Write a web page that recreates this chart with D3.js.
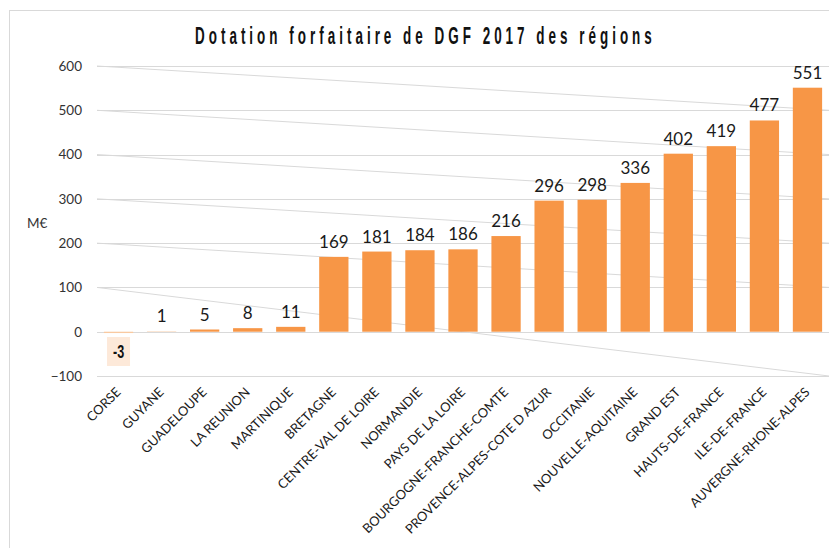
<!DOCTYPE html>
<html>
<head>
<meta charset="utf-8">
<script src="https://cdn.jsdelivr.net/npm/d3@7"></script>
<style>
  body { margin: 0; background: #fff; }
  svg { display: block; }
</style>
</head>
<body>
<svg id="chart" width="829" height="548"></svg>
<script>
const categories = ["CORSE","GUYANE","GUADELOUPE","LA REUNION","MARTINIQUE","BRETAGNE","CENTRE-VAL DE LOIRE","NORMANDIE","PAYS DE LA LOIRE","BOURGOGNE-FRANCHE-COMTE","PROVENCE-ALPES-COTE D AZUR","OCCITANIE","NOUVELLE-AQUITAINE","GRAND EST","HAUTS-DE-FRANCE","ILE-DE-FRANCE","AUVERGNE-RHONE-ALPES"];
const values = [-3, 1, 5, 8, 11, 169, 181, 184, 186, 216, 296, 298, 336, 402, 419, 477, 551];
const yTicks = [-100, 0, 100, 200, 300, 400, 500, 600];
const diagonalFrom = [600, 500, 400, 300, 200, 100];
const diagonalTo   = [500, 400, 300, 200, 100, -100];
const title = "Dotation forfaitaire de DGF 2017 des régions";
const unit = "M€";

const svg = d3.select("#chart");
const left = 97, right = 829;

const x = d3.scaleBand().domain(categories).range([left, right]).paddingInner(0.32).paddingOuter(0.16);
const y = d3.scaleLinear().domain([-100, 600]).range([376, 66]);

// frame
svg.append("rect").attr("x", 9.5).attr("y", 10.5).attr("width", 830).attr("height", 560)
  .attr("fill", "none").attr("stroke", "#d9d9d9");

// title (condensed, widely spaced)
const sx = 0.56, titleW = 457;
const tt = svg.append("text")
  .attr("font-family", "'Liberation Sans', Arial, sans-serif")
  .attr("font-weight", "bold").attr("font-size", 24).attr("fill", "#111")
  .text(title);
const natural = tt.node().getComputedTextLength();
const n = title.length;
const ls = (titleW / sx - natural) / (n - 1);
tt.attr("letter-spacing", ls)
  .attr("transform", `translate(195,44) scale(${sx},1)`);

// gridlines
const grid = svg.append("g").attr("stroke", "#d9d9d9").attr("stroke-width", 1);
grid.selectAll("line.h").data(yTicks).join("line").attr("class", "h")
  .attr("x1", left).attr("x2", right)
  .attr("y1", d => Math.round(y(d)) + 0.5).attr("y2", d => Math.round(y(d)) + 0.5);
grid.selectAll("line.d").data(diagonalFrom).join("line").attr("class", "d")
  .attr("x1", left).attr("x2", right)
  .attr("y1", d => y(d)).attr("y2", (d, i) => y(diagonalTo[i]));

// y axis
const yAxis = d3.axisLeft(y).tickValues(yTicks).tickSize(0).tickPadding(0);
const ya = svg.append("g").attr("transform", "translate(82,0)").call(yAxis);
ya.select(".domain").remove();
ya.selectAll("text").attr("font-family", "Lato, 'Open Sans', sans-serif").attr("font-size", 13.5).attr("fill", "#333");

svg.append("text").attr("x", 27).attr("y", 228).attr("font-family", "Lato, 'Open Sans', sans-serif")
  .attr("font-size", 13.5).attr("fill", "#333").text(unit);

// bars
svg.append("g").selectAll("rect").data(values).join("rect")
  .attr("x", (d, i) => x(categories[i]))
  .attr("width", x.bandwidth())
  .attr("y", d => Math.min(y(d), y(0)))
  .attr("height", d => Math.abs(y(d) - y(0)))
  .attr("fill", d => Math.abs(d) < 4 ? "#f9c9a0" : "#f79646");

// value labels
const pos = values.map((v, i) => ({v, c: categories[i]})).filter(d => d.v >= 0);
svg.append("g").selectAll("text").data(pos).join("text")
  .attr("x", d => x(d.c) + x.bandwidth() / 2)
  .attr("y", d => y(d.v) - 9)
  .attr("text-anchor", "middle")
  .attr("font-family", "Lato, 'Open Sans', sans-serif").attr("font-size", 17).attr("fill", "#1a1a1a")
  .text(d => d.v);

// negative label in box
const neg = values.map((v, i) => ({v, c: categories[i]})).filter(d => d.v < 0);
const ng = svg.append("g").selectAll("g").data(neg).join("g")
  .attr("transform", d => `translate(${x(d.c) + x.bandwidth() / 2},0)`);
ng.append("rect").attr("x", -11.5).attr("y", 337).attr("width", 23).attr("height", 29).attr("fill", "#fde9d9");
ng.append("text").attr("text-anchor", "middle")
  .attr("transform", "translate(0,358) scale(0.7,1)")
  .attr("font-family", "'Liberation Sans', Arial, sans-serif")
  .attr("font-weight", "bold").attr("font-size", 18).attr("fill", "#111")
  .text(d => "-" + Math.abs(d.v));

// category labels
const xAxis = d3.axisBottom(x).tickSize(0).tickPadding(0);
const xa = svg.append("g").call(xAxis);
xa.select(".domain").remove();
xa.selectAll(".tick").attr("transform", d => `translate(${x(d) + x.bandwidth() / 2 + 3},393)`);
xa.selectAll("text")
  .attr("y", 0).attr("dy", 0).attr("x", 0)
  .attr("text-anchor", "end")
  .attr("transform", "rotate(-45)")
  .attr("font-family", "Lato, 'Open Sans', sans-serif").attr("font-size", 13).attr("fill", "#1a1a1a");
</script>
</body>
</html>
